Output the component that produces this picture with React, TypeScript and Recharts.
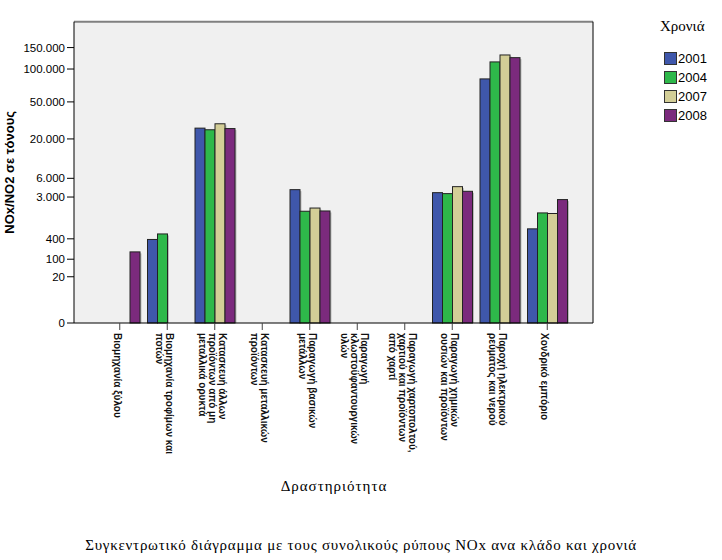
import { BarChart, Bar, XAxis, YAxis, CartesianGrid, ReferenceLine, Legend } from "recharts";

// category labels (line breaks as in the original axis)
const CATEGORIES = [
  "Βιομηχανία ξύλου",
  "Βιομηχανία τροφίμων και\nποτών",
  "Κατασκευή άλλων\nπροϊόντων από μη\nμεταλλικά ορυκτά",
  "Κατασκευή μεταλλικών\nπροϊόντων",
  "Παραγωγή βασικών\nμετάλλων",
  "Παραγωγή\nκλωστοϋφαντουργικών\nυλών",
  "Παραγωγή χαρτοπολτού,\nχαρτιού και προϊόντων\nαπό χαρτί",
  "Παραγωγή χημικών\nουσιών και προϊόντων",
  "Παροχή ηλεκτρικού\nρεύματος και νερού",
  "Χονδρικό εμπόριο",
];

// tonnes NOx/NO2 per year (null = no bar)
const V2001 = [null, 385, 26600, null, 3990, null, null, 3560, 82000, 700];
const V2004 = [null, 530, 25500, null, 1650, null, null, 3430, 114800, 1530];
const V2007 = [null, null, 29700, null, 1900, null, null, 4460, 130900, 1490];
const V2008 = [172, null, 26300, null, 1670, null, null, 3750, 124500, 2710];

const YEARS = ["2001", "2004", "2007", "2008"];
const COLORS = ["#3f57ab", "#2eb84a", "#d3ce97", "#7b2a7d"];

const Y_TICKS = [0, 20, 100, 400, 3000, 6000, 20000, 50000, 100000, 150000];
const Y_TOP = 235000;

// SPSS power scale (exponent 0.2)
const POW = 0.2;
const tf = (v: number | null) => (v == null ? null : Math.pow(v, POW));

const SERIES = [V2001, V2004, V2007, V2008];
const data = CATEGORIES.map((name, i) => {
  const row: Record<string, any> = { name };
  YEARS.forEach((yr, k) => {
    row["y" + yr] = tf(SERIES[k][i]);
  });
  return row;
});

const SANS = "'Liberation Sans', Arial, sans-serif";
const SERIF = "'Liberation Serif', 'Times New Roman', serif";

function fmtTick(t: number) {
  const raw = Math.pow(t, 1 / POW);
  let best = Y_TICKS[0];
  Y_TICKS.forEach((v) => {
    if (Math.abs(v - raw) < Math.abs(best - raw)) best = v;
  });
  return String(best).replace(/\B(?=(\d{3})+(?!\d))/g, ".");
}

function XTick({ x, y, payload }: any) {
  const lines = String(payload.value).split("\n");
  const n = lines.length;
  return (
    <g transform={`translate(${x},${y})`}>
      <text
        transform="rotate(90)"
        fontSize={10}
        fontWeight="bold"
        fill="#111"
        fontFamily={SANS}
        dominantBaseline="central"
      >
        {lines.map((l, i) => (
          <tspan key={i} x={1} y={2 + (i - (n - 1) / 2) * 10}>
            {l}
          </tspan>
        ))}
      </text>
    </g>
  );
}

function YLabel({ viewBox }: any) {
  const cy = viewBox.y + viewBox.height / 2;
  return (
    <text
      x={10}
      y={cy}
      transform={`rotate(-90, 10, ${cy})`}
      textAnchor="middle"
      dominantBaseline="central"
      fontSize={13}
      fontWeight="bold"
      fontFamily={SANS}
      fill="#000"
    >
      NOx/NO2 σε τόνους
    </text>
  );
}

// bar with the light drop shadow SPSS draws on the right side
function ShadowBar({ x, y, width, height, fill }: any) {
  if (height == null || height <= 0) return null;
  return (
    <g>
      <rect x={x + 1.5} y={y + 1.5} width={width} height={height - 1.5} fill="#000" fillOpacity={0.22} />
      <rect x={x} y={y} width={width} height={height} fill={fill} stroke="#222" strokeWidth={1} />
    </g>
  );
}

function LegendBox() {
  return (
    <div style={{ width: 64 }}>
      <div style={{ fontFamily: SERIF, fontSize: 15, color: "#000", marginLeft: -4, paddingTop: 3, height: 31 }}>
        Χρονιά
      </div>
      {YEARS.map((yr, i) => (
        <div key={yr} style={{ display: "flex", alignItems: "center", height: 19 }}>
          <span
            style={{
              width: 11,
              height: 11,
              background: COLORS[i],
              border: "1px solid #333",
              display: "inline-block",
            }}
          />
          <span style={{ fontFamily: SANS, fontSize: 13, color: "#000", marginLeft: 1 }}>{yr}</span>
        </div>
      ))}
    </div>
  );
}

export default function App() {
  return (
    <div style={{ position: "absolute", left: 0, top: 0, width: 722, height: 560, background: "#fff" }}>
      <BarChart
        width={722}
        height={560}
        data={data}
        margin={{ top: 21.7, right: 128, bottom: 97, left: 0 }}
        barSize={10}
        barGap={0}
      >
        <CartesianGrid fill="#f0f0f0" horizontal={false} vertical={false} />
        <XAxis
          dataKey="name"
          interval={0}
          height={140}
          padding={{ left: 22, right: 22 }}
          axisLine={{ stroke: "#000" }}
          tickLine={{ stroke: "#444" }}
          tickSize={7}
          tick={<XTick />}
        />
        <YAxis
          width={74}
          type="number"
          domain={[0, tf(Y_TOP) as number]}
          ticks={Y_TICKS.map((v) => tf(v) as number)}
          interval={0}
          tickFormatter={fmtTick}
          tick={{ fontSize: 11.5, fill: "#000", fontFamily: SANS }}
          axisLine={{ stroke: "#000" }}
          tickLine={{ stroke: "#000" }}
          tickSize={7}
          label={<YLabel />}
        />
        <YAxis
          yAxisId="r"
          orientation="right"
          width={1}
          tick={false}
          tickLine={false}
          axisLine={{ stroke: "#000" }}
        />
        <ReferenceLine y={tf(Y_TOP) as number} stroke="#808080" strokeWidth={2} />
        <Legend
          layout="vertical"
          align="center"
          verticalAlign="middle"
          wrapperStyle={{ position: "absolute", left: 664, top: 15, width: 64 }}
          content={() => <LegendBox />}
        />
        {YEARS.map((yr, i) => (
          <Bar
            key={yr}
            dataKey={"y" + yr}
            fill={COLORS[i]}
            shape={<ShadowBar />}
            isAnimationActive={false}
          />
        ))}
      </BarChart>
      <div
        style={{
          position: "absolute",
          left: 184,
          width: 300,
          top: 478,
          textAlign: "center",
          fontFamily: SERIF,
          fontSize: 15,
          letterSpacing: 1,
          color: "#000",
        }}
      >
        Δραστηριότητα
      </div>
      <div
        style={{
          position: "absolute",
          left: 0,
          width: 722,
          top: 537,
          textAlign: "center",
          fontFamily: SERIF,
          fontSize: 15,
          letterSpacing: 0.75,
          color: "#000",
        }}
      >
        Συγκεντρωτικό διάγραμμα με τους συνολικούς ρύπους NOx ανα κλάδο και χρονιά
      </div>
    </div>
  );
}
